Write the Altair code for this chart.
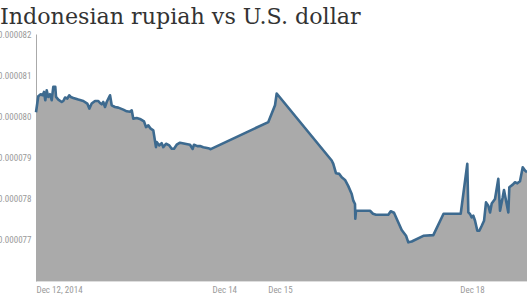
import altair as alt
import pandas as pd

# x position in days from the first label (Dec 12, 2014)
days = [0, 0.037, 0.076, 0.108, 0.129, 0.150, 0.173, 0.198, 0.226, 0.253,
        0.279, 0.311, 0.323, 0.360, 0.415, 0.440, 0.468, 0.505, 0.537, 0.560,
        0.602, 0.682, 0.763, 0.827, 0.860, 0.898, 0.952, 1.005, 1.032, 1.060,
        1.085, 1.113, 1.140, 1.194, 1.221, 1.274, 1.327, 1.408, 1.463, 1.516,
        1.544, 1.569, 1.624, 1.689, 1.742, 1.774, 1.811, 1.850, 1.892, 1.935,
        1.947, 1.989, 2.027, 2.053, 2.097, 2.150, 2.189, 2.226, 2.269, 2.323,
        2.403, 2.484, 2.527, 2.548, 2.602, 2.645, 2.698, 2.779, 2.818, 3.747,
        3.855, 3.882, 4.769, 4.795, 4.839, 4.892, 4.931, 4.984, 5.037, 5.092,
        5.118, 5.145, 5.150, 5.161, 5.387, 5.435, 5.484, 5.682, 5.721, 5.774,
        5.844, 5.898, 5.968, 6.005, 6.060, 6.247, 6.408, 6.573, 6.850, 6.956,
        6.973, 7.000, 7.027, 7.053, 7.081, 7.118, 7.150, 7.189, 7.226, 7.258,
        7.295, 7.323, 7.350, 7.403, 7.456, 7.484, 7.527, 7.548, 7.618, 7.634,
        7.689, 7.726, 7.763, 7.806, 7.850, 7.887, 7.919]

# exchange rate in millionths of a dollar per rupiah
rate_micro = [80.098, 80.488, 80.537, 80.512, 80.593, 80.390, 80.634, 80.471, 80.537, 80.390,
              80.715, 80.715, 80.471, 80.407, 80.349, 80.373, 80.456, 80.432, 80.512, 80.471,
              80.446, 80.407, 80.373, 80.310, 80.188, 80.310, 80.373, 80.373, 80.324, 80.293,
              80.349, 80.227, 80.349, 80.512, 80.268, 80.227, 80.212, 80.163, 80.122, 80.110,
              80.146, 79.944, 79.959, 79.927, 79.878, 79.739, 79.780, 79.700, 79.659, 79.251,
              79.373, 79.293, 79.349, 79.251, 79.334, 79.293, 79.212, 79.212, 79.310, 79.359,
              79.334, 79.310, 79.207, 79.310, 79.276, 79.280, 79.251, 79.227, 79.202, 79.861,
              80.268, 80.554, 78.927, 78.846, 78.617, 78.602, 78.520, 78.456, 78.305, 78.115,
              77.951, 77.871, 77.512, 77.707, 77.707, 77.634, 77.610, 77.610, 77.695, 77.659,
              77.422, 77.237, 77.098, 76.939, 76.959, 77.098, 77.115, 77.634, 77.634, 78.846,
              77.666, 77.627, 77.544, 77.585, 77.463, 77.220, 77.220, 77.341, 77.463, 77.910,
              77.829, 77.666, 77.885, 77.993, 78.480, 77.707, 78.032, 78.212, 77.666, 78.276,
              78.341, 78.398, 78.373, 78.422, 78.763, 78.683, 78.641]

x_tick_values = [0, 3.037, 3.935, 7.032]
x_tick_labels = ["Dec 12, 2014", "Dec 14", "Dec 15", "Dec 18"]
y_tick_values = [0.000077, 0.000078, 0.000079, 0.000080, 0.000081, 0.000082]
y_min, y_max = 0.000076, 0.000082

df = pd.DataFrame({"day": days, "rate": [v * 1e-6 for v in rate_micro]})

label_expr = "''"
for v, lab in reversed(list(zip(x_tick_values, x_tick_labels))):
    label_expr = f"datum.value == {v} ? '{lab}' : ({label_expr})"

lab_font = "Liberation Sans Narrow, Roboto Condensed, DejaVu Sans Condensed, sans-serif"

x_enc = alt.X("day:Q",
              scale=alt.Scale(domain=[0, 7.919], nice=False, zero=False),
              axis=alt.Axis(values=x_tick_values, labelExpr=label_expr, title=None,
                            grid=False, ticks=False, domainColor="#dddddd",
                            labelFlush=True, labelOverlap=False, labelPadding=4,
                            labelFont=lab_font, labelFontSize=9, labelColor="#9a9a9a"))
y_enc = alt.Y("rate:Q",
              scale=alt.Scale(domain=[y_min, y_max], nice=False, zero=False),
              axis=alt.Axis(values=y_tick_values, format=".6f", title=None,
                            grid=False, ticks=False, domainColor="#aaaaaa",
                            labelPadding=5, labelFont=lab_font, labelFontSize=9,
                            labelColor="#9a9a9a"))

base = alt.Chart(df)
area = base.mark_area(color="#aaaaaa", opacity=1).encode(x=x_enc, y=y_enc, y2=alt.datum(y_min))
line = base.mark_line(color="#3d6a8f", strokeWidth=2.6, strokeJoin="round").encode(x="day:Q", y="rate:Q")

chart = alt.layer(area, line).properties(
    width=491, height=247,
    autosize=alt.AutoSizeParams(type="none"),
    padding={"left": 36, "top": 34, "right": 0, "bottom": 15},
    title=alt.TitleParams("Indonesian rupiah vs U.S. dollar", anchor="start", frame="group",
                          dx=-36, font="DejaVu Serif", fontSize=22.2, fontWeight="normal",
                          color="#333333", offset=2),
).configure_view(stroke=None)

chart.save("out.html", embed_options={"renderer": "svg", "actions": False})
